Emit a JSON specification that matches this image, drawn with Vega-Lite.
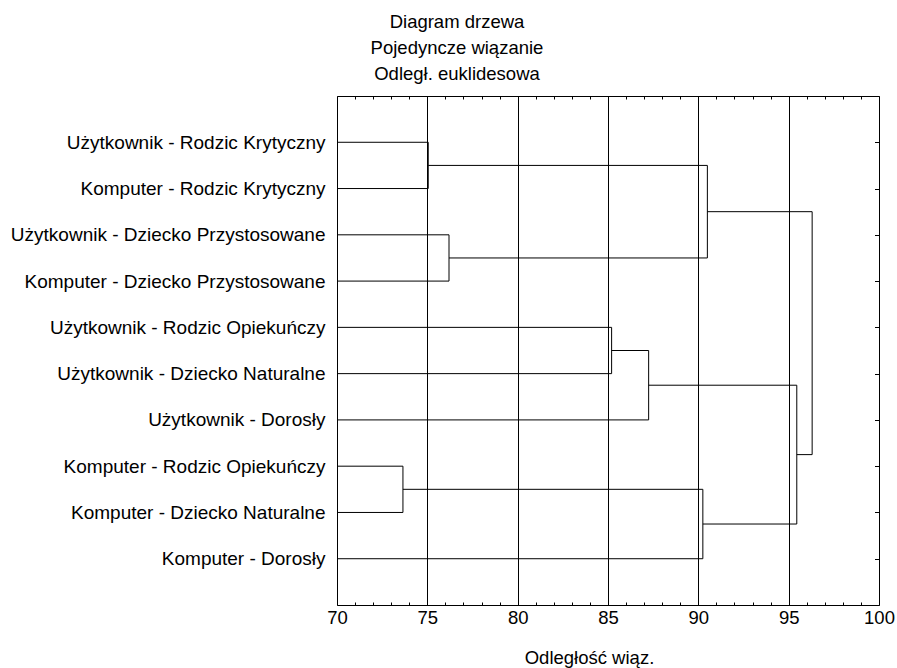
{
  "$schema": "https://vega.github.io/schema/vega-lite/v6.json",
  "width": 542,
  "height": 509,
  "autosize": {"type": "none"},
  "padding": {"left": 337, "top": 96, "right": 18, "bottom": 63},
  "background": "white",
  "title": {
    "text": ["Diagram drzewa", "Pojedyncze wiązanie", "Odległ. euklidesowa"],
    "font": "Liberation Sans",
    "fontSize": 18.5,
    "fontWeight": "normal",
    "color": "black",
    "anchor": "middle",
    "frame": "group",
    "dx": -151,
    "offset": 12,
    "lineHeight": 26
  },
  "datasets": {
    "links": [
      {"kind": "h", "x": 70, "x2": 75.05, "y": 1, "y2": 1},
      {"kind": "h", "x": 70, "x2": 75.05, "y": 2, "y2": 2},
      {"kind": "h", "x": 70, "x2": 76.2, "y": 3, "y2": 3},
      {"kind": "h", "x": 70, "x2": 76.2, "y": 4, "y2": 4},
      {"kind": "h", "x": 70, "x2": 85.2, "y": 5, "y2": 5},
      {"kind": "h", "x": 70, "x2": 85.2, "y": 6, "y2": 6},
      {"kind": "h", "x": 70, "x2": 87.25, "y": 7, "y2": 7},
      {"kind": "h", "x": 70, "x2": 73.65, "y": 8, "y2": 8},
      {"kind": "h", "x": 70, "x2": 73.65, "y": 9, "y2": 9},
      {"kind": "h", "x": 70, "x2": 90.25, "y": 10, "y2": 10},
      {"kind": "h", "x": 75.05, "x2": 90.5, "y": 1.5, "y2": 1.5},
      {"kind": "h", "x": 76.2, "x2": 90.5, "y": 3.5, "y2": 3.5},
      {"kind": "h", "x": 90.5, "x2": 96.3, "y": 2.5, "y2": 2.5},
      {"kind": "h", "x": 85.2, "x2": 87.25, "y": 5.5, "y2": 5.5},
      {"kind": "h", "x": 87.25, "x2": 95.45, "y": 6.25, "y2": 6.25},
      {"kind": "h", "x": 73.65, "x2": 90.25, "y": 8.5, "y2": 8.5},
      {"kind": "h", "x": 90.25, "x2": 95.45, "y": 9.25, "y2": 9.25},
      {"kind": "h", "x": 95.45, "x2": 96.3, "y": 7.75, "y2": 7.75},
      {"kind": "v", "x": 75.05, "x2": 75.05, "y": 1, "y2": 2},
      {"kind": "v", "x": 76.2, "x2": 76.2, "y": 3, "y2": 4},
      {"kind": "v", "x": 90.5, "x2": 90.5, "y": 1.5, "y2": 3.5},
      {"kind": "v", "x": 85.2, "x2": 85.2, "y": 5, "y2": 6},
      {"kind": "v", "x": 87.25, "x2": 87.25, "y": 5.5, "y2": 7},
      {"kind": "v", "x": 73.65, "x2": 73.65, "y": 8, "y2": 9},
      {"kind": "v", "x": 90.25, "x2": 90.25, "y": 8.5, "y2": 10},
      {"kind": "v", "x": 95.45, "x2": 95.45, "y": 6.25, "y2": 9.25},
      {"kind": "v", "x": 96.3, "x2": 96.3, "y": 2.5, "y2": 7.75}
    ]
  },
  "data": {"name": "links"},
  "resolve": {"axis": {"x": "independent", "y": "independent"}},
  "layer": [
    {
      "transform": [{"filter": "datum.kind === 'h'"}],
      "mark": {"type": "rule", "color": "black", "strokeWidth": 1},
      "encoding": {
        "x": {
          "field": "x",
          "type": "quantitative",
          "scale": {"domain": [70, 100], "nice": false, "zero": false},
          "axis": {
            "orient": "bottom",
            "title": "Odległość wiąz.",
            "values": [70,71,72,73,74,75,76,77,78,79,80,81,82,83,84,85,86,87,88,89,90,91,92,93,94,95,96,97,98,99,100],
            "labelExpr": "datum.value % 5 === 0 ? datum.label : ''",
            "grid": true,
            "gridColor": "black",
            "gridWidth": 1,
            "gridOpacity": {"condition": {"test": "datum.value % 5 === 0 && datum.value > 70 && datum.value < 100", "value": 1}, "value": 0},
            "tickSize": -3,
            "tickColor": "black",
            "domain": false,
            "labelPadding": 6,
            "labelFlush": false,
            "titleX": 252,
            "titlePadding": 22
          }
        },
        "x2": {"field": "x2"},
        "y": {
          "field": "y",
          "type": "quantitative",
          "scale": {"domain": [0, 11], "nice": false, "zero": false, "reverse": true},
          "axis": {
            "orient": "left",
            "title": null,
            "values": [1,2,3,4,5,6,7,8,9,10],
            "labelExpr": "['Użytkownik - Rodzic Krytyczny', 'Komputer - Rodzic Krytyczny', 'Użytkownik - Dziecko Przystosowane', 'Komputer - Dziecko Przystosowane', 'Użytkownik - Rodzic Opiekuńczy', 'Użytkownik - Dziecko Naturalne', 'Użytkownik - Dorosły', 'Komputer - Rodzic Opiekuńczy', 'Komputer - Dziecko Naturalne', 'Komputer - Dorosły'][datum.value - 1]",
            "ticks": false,
            "tickSize": 0,
            "grid": false,
            "domain": false,
            "labelPadding": 12,
            "labelLimit": 0,
            "labelFontSize": 19
          }
        }
      }
    },
    {
      "transform": [{"filter": "datum.kind === 'v'"}],
      "mark": {"type": "rule", "color": "black", "strokeWidth": 1},
      "encoding": {
        "x": {
          "field": "x",
          "type": "quantitative",
          "axis": {
            "orient": "top",
            "title": null,
            "values": [70,71,72,73,74,75,76,77,78,79,80,81,82,83,84,85,86,87,88,89,90,91,92,93,94,95,96,97,98,99,100],
            "labels": false,
            "grid": false,
            "tickSize": -3,
            "tickColor": "black",
            "domain": false
          }
        },
        "y": {
          "field": "y",
          "type": "quantitative",
          "axis": {
            "orient": "right",
            "title": null,
            "values": [1,2,3,4,5,6,7,8,9,10],
            "labels": false,
            "grid": false,
            "tickSize": -4.5,
            "tickColor": "black",
            "domain": false
          }
        },
        "y2": {"field": "y2"}
      }
    }
  ],
  "config": {
    "view": {"stroke": "black", "strokeWidth": 1},
    "font": "Liberation Sans",
    "axis": {
      "labelFont": "Liberation Sans",
      "labelFontSize": 18.5,
      "labelColor": "black",
      "titleFont": "Liberation Sans",
      "titleFontSize": 18.5,
      "titleFontWeight": "normal",
      "titleColor": "black"
    }
  }
}
